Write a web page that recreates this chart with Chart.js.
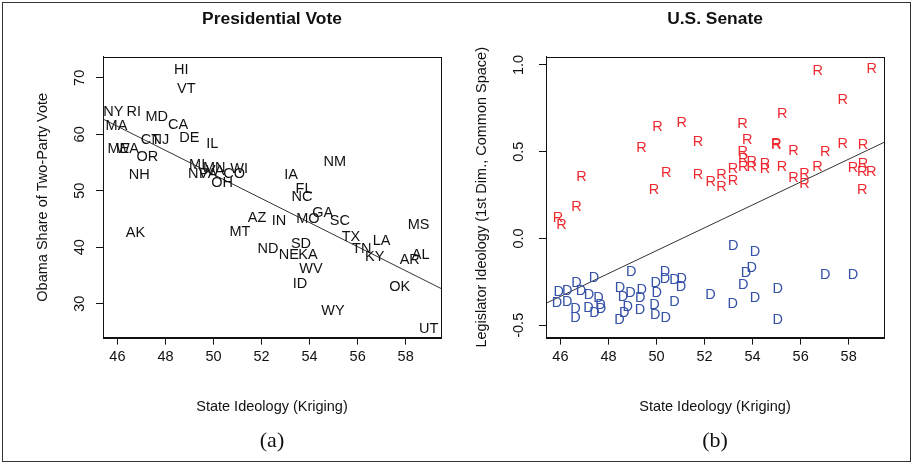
<!DOCTYPE html>
<html>
<head>
<meta charset="utf-8">
<script src="https://cdn.jsdelivr.net/npm/chart.js@4/dist/chart.umd.min.js"></script>
<style>
  html, body { margin: 0; padding: 0; background: #fff; }
  #frame { position: absolute; left: 2px; top: 2px; width: 909px; height: 460px; border: 1px solid #333; box-sizing: border-box; }
  #presCanvas { position: absolute; left: 0; top: 0; }
  #senCanvas { position: absolute; left: 457px; top: 0; }
</style>
</head>
<body>
<div id="frame"></div>
<canvas id="presCanvas" width="457" height="466"></canvas>
<canvas id="senCanvas" width="458" height="466"></canvas>
<script>
// -------------------------
//      DATA
// -------------------------

// panel (a): state labels, state ideology, Obama two-party share
const STATES = ["HI","VT","NY","RI","MD","CA","MA","DE","IL","CT","NJ","ME","WA","OR","NH",
  "MI","MN","NV","PA","VA","CO","OH","WI","IA","NM","FL","NC","GA","MO","SC",
  "IN","AZ","MT","AK","ND","NE","KA","SD","WV","ID","WY","TX","TN","KY","LA",
  "AR","AL","MS","OK","UT"];
const STATE_IDEOLOGY = [48.66,48.87,45.83,46.68,47.64,48.53,45.96,48.99,49.95,47.37,47.79,46.04,46.42,47.25,46.91,
  49.32,50.03,49.36,49.78,50.07,50.86,50.36,51.07,53.23,55.05,53.77,53.68,54.55,53.93,55.26,
  52.73,51.81,51.10,46.75,52.27,53.14,53.93,53.64,54.06,53.60,54.97,55.72,56.17,56.71,57.00,
  58.17,58.62,58.54,57.75,58.96];
const OBAMA_SHARE = [71.6,68.2,64.2,64.2,63.2,61.9,61.6,59.5,58.5,59.1,59.1,57.6,57.6,56.2,52.9,
  54.7,54.3,53.2,53.1,53.6,53.1,51.5,54.0,52.9,55.2,50.5,49.0,46.2,45.1,44.8,
  44.8,45.3,42.8,42.7,39.8,38.8,38.8,40.8,36.4,33.6,28.8,42.0,39.8,38.5,41.3,
  38.0,38.8,44.1,33.2,25.7];
const PRES_FIT_X = [45.40, 59.47];
const PRES_FIT_Y = [62.7, 32.7];
const PRES_X_TICKS = [46, 48, 50, 52, 54, 56, 58];
const PRES_Y_TICKS = [30, 40, 50, 60, 70];

// panel (b): senators, state ideology vs common space score
const REP_X = [45.90,46.04,46.67,46.88,49.38,49.90,50.04,50.41,51.05,51.73,51.73,52.26,52.71,52.71,53.18,
  53.18,53.58,53.78,53.59,53.61,53.96,53.61,53.96,54.52,54.52,54.98,54.98,55.23,55.22,55.70,
  55.70,56.16,56.16,56.71,56.70,57.02,57.75,57.75,58.18,58.60,58.60,58.56,58.94,58.56,58.96];
const REP_Y = [0.126,0.082,0.187,0.359,0.528,0.283,0.651,0.382,0.671,0.560,0.374,0.334,0.369,0.300,0.407,
  0.340,0.667,0.575,0.502,0.464,0.449,0.416,0.416,0.436,0.407,0.552,0.544,0.721,0.420,0.512,
  0.353,0.378,0.317,0.969,0.417,0.502,0.803,0.552,0.413,0.544,0.435,0.388,0.388,0.287,0.981];
const DEM_X = [45.93,46.28,45.86,46.28,46.67,46.86,46.63,46.63,47.19,47.17,47.40,47.42,47.59,47.67,47.69,
  48.48,48.92,49.39,48.60,49.32,48.80,49.31,48.66,48.46,48.95,49.97,50.01,49.92,49.95,50.35,
  50.35,50.75,51.05,51.02,50.75,50.38,52.25,53.19,54.10,53.96,53.72,53.61,53.17,54.10,55.05,
  55.05,57.02,58.18];
const DEM_Y = [-0.300,-0.299,-0.367,-0.358,-0.253,-0.299,-0.401,-0.454,-0.322,-0.396,-0.222,-0.421,-0.338,-0.377,-0.400,
  -0.281,-0.308,-0.291,-0.331,-0.338,-0.388,-0.407,-0.423,-0.464,-0.186,-0.252,-0.310,-0.377,-0.434,-0.186,
  -0.226,-0.233,-0.228,-0.274,-0.358,-0.453,-0.319,-0.038,-0.071,-0.166,-0.195,-0.262,-0.373,-0.338,-0.285,
  -0.463,-0.205,-0.205];
const SEN_FIT_X = [45.40, 59.47];
const SEN_FIT_Y = [-0.373, 0.554];
const SEN_X_TICKS = [46, 48, 50, 52, 54, 56, 58];
const SEN_Y_TICKS = [-0.5, 0, 0.5, 1.0];

// -------------------------

const FONT = "'Liberation Sans', Arial, Helvetica, sans-serif";
const INK = "#111";

function toPoints(xs, ys) {
    return xs.map((x, i) => ({ x, y: ys[i] }));
}

// draws each point of a dataset as a text mark (like R's text())
const textMarks = {
    id: "textMarks",
    afterDatasetsDraw(chart) {
        const ctx = chart.ctx;
        chart.data.datasets.forEach((ds, i) => {
            if (!ds.marks) return;
            const meta = chart.getDatasetMeta(i);
            ctx.save();
            ctx.font = "14.5px " + FONT;
            ctx.fillStyle = ds.markColor;
            ctx.textAlign = "center";
            ctx.textBaseline = "middle";
            meta.data.forEach((pt, j) => {
                const m = Array.isArray(ds.marks) ? ds.marks[j] : ds.marks;
                ctx.fillText(m, pt.x, pt.y + 1);
            });
            ctx.restore();
        });
    }
};

// box around the plot region
const plotBox = {
    id: "plotBox",
    afterDraw(chart) {
        const a = chart.chartArea;
        const ctx = chart.ctx;
        ctx.save();
        ctx.strokeStyle = INK;
        ctx.lineWidth = 1;
        ctx.strokeRect(Math.round(a.left) + 0.5, Math.round(a.top) + 0.5,
            Math.round(a.right - a.left), Math.round(a.bottom - a.top));
        ctx.restore();
    }
};

function fixedTicks(values) {
    return scale => { scale.ticks = values.map(v => ({ value: v })); };
}

function buildPanel(canvasId, cfg) {
    const ctx = document.getElementById(canvasId).getContext("2d");
    return new Chart(ctx, {
        type: "scatter",
        data: { datasets: cfg.datasets },
        plugins: [textMarks, plotBox],
        options: {
            responsive: false,
            animation: false,
            devicePixelRatio: 1,
            layout: { padding: { left: 0, right: cfg.padRight, top: 0, bottom: 0 } },
            plugins: {
                legend: { display: false },
                tooltip: { enabled: false },
                title: {
                    display: true,
                    text: cfg.title,
                    fullSize: false,
                    color: INK,
                    font: { family: FONT, size: 17.4, weight: "bold" },
                    padding: { top: 8.4, bottom: 27.7 }
                },
                subtitle: {
                    display: true,
                    text: cfg.tag,
                    position: "bottom",
                    fullSize: false,
                    color: INK,
                    font: { family: "'Liberation Serif', 'Times New Roman', serif", size: 22 },
                    padding: { top: 10, bottom: 12 }
                }
            },
            scales: {
                x: {
                    type: "linear",
                    min: cfg.xMin, max: cfg.xMax,
                    afterBuildTicks: fixedTicks(cfg.xTicks),
                    afterFit: s => { s.height = 80; },
                    grid: { drawOnChartArea: false, drawTicks: true, tickLength: 7, color: INK },
                    border: { display: true, color: INK },
                    ticks: { color: INK, padding: 4, font: { family: FONT, size: 14.5 }, maxRotation: 0 },
                    title: {
                        display: true, text: "State Ideology (Kriging)", color: INK,
                        font: { family: FONT, size: 14.5 }, padding: { top: 0, bottom: 2 }
                    }
                },
                y: {
                    type: "linear",
                    min: cfg.yMin, max: cfg.yMax,
                    afterBuildTicks: fixedTicks(cfg.yTicks),
                    afterFit: s => { s.width = cfg.yAxisWidth; },
                    grid: { drawOnChartArea: false, drawTicks: true, tickLength: 7, color: INK },
                    border: { display: true, color: INK },
                    ticks: {
                        color: INK, padding: cfg.yTickPad, crossAlign: "center",
                        minRotation: 90, maxRotation: 90,
                        font: { family: FONT, size: 14.5 },
                        callback: cfg.yFormat
                    },
                    title: {
                        display: true, text: cfg.yTitle, color: INK,
                        font: { family: FONT, size: 14.5 }, padding: { top: cfg.yTitlePad, bottom: 0 }
                    }
                }
            }
        }
    });
}

// -------------------------
//   (a) PRESIDENTIAL VOTE
// -------------------------

buildPanel("presCanvas", {
    title: "Presidential Vote",
    tag: "(a)",
    padRight: 16,
    yAxisWidth: 103,
    yTickPad: 8,
    yTitlePad: 34,
    yTitle: "Obama Share of Two-Party Vote",
    xMin: 45.40, xMax: 59.47, yMin: 24.0, yMax: 73.7,
    xTicks: PRES_X_TICKS, yTicks: PRES_Y_TICKS,
    yFormat: v => String(v),
    datasets: [
        {
            label: "fit",
            data: toPoints(PRES_FIT_X, PRES_FIT_Y),
            showLine: true, borderColor: "#333", borderWidth: 1, pointRadius: 0
        },
        {
            label: "states",
            data: toPoints(STATE_IDEOLOGY, OBAMA_SHARE),
            pointRadius: 0,
            marks: STATES, markColor: INK
        }
    ]
});

// -------------------------
//     (b) U.S. SENATE
// -------------------------

buildPanel("senCanvas", {
    title: "U.S. Senate",
    tag: "(b)",
    padRight: 31,
    yAxisWidth: 89,
    yTickPad: 8,
    yTitlePad: 16.6,
    yTitle: "Legislator Ideology (1st Dim., Common Space)",
    xMin: 45.40, xMax: 59.47, yMin: -0.571, yMax: 1.046,
    xTicks: SEN_X_TICKS, yTicks: SEN_Y_TICKS,
    yFormat: v => v.toFixed(1),
    datasets: [
        {
            label: "fit",
            data: toPoints(SEN_FIT_X, SEN_FIT_Y),
            showLine: true, borderColor: "#333", borderWidth: 1, pointRadius: 0
        },
        {
            label: "Republicans",
            data: toPoints(REP_X, REP_Y),
            pointRadius: 0,
            marks: "R", markColor: "#ee2a30"
        },
        {
            label: "Democrats",
            data: toPoints(DEM_X, DEM_Y),
            pointRadius: 0,
            marks: "D", markColor: "#3552a8"
        }
    ]
});
</script>
</body>
</html>
